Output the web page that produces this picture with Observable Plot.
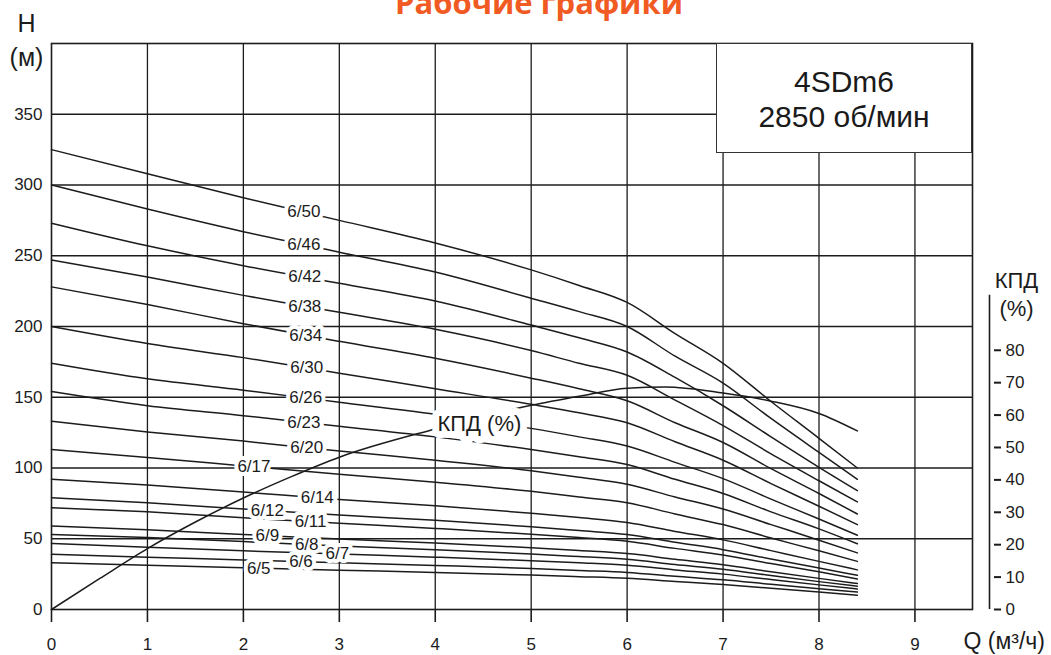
<!DOCTYPE html>
<html>
<head>
<meta charset="utf-8">
<script src="https://cdn.jsdelivr.net/npm/d3@7"></script>
<script src="https://cdn.jsdelivr.net/npm/@observablehq/plot@0.6"></script>
<style>
  html, body { margin: 0; padding: 0; background: #fff; }
  #wrap { position: relative; width: 1051px; height: 655px; overflow: hidden; }
  #box {
    position: absolute; left: 716px; top: 43px; width: 256px; height: 110px;
    box-sizing: border-box; border: 1.5px solid #333; background: #fff;
    display: flex; flex-direction: column; align-items: center; justify-content: center;
    font-family: "Liberation Sans", Arial, sans-serif; font-size: 30px; line-height: 35px; color: #1a1a1a;
    padding-top: 2px;
  }
</style>
</head>
<body>
<div id="wrap"><div id="box"><div>4SDm6</div><div>2850 об/мин</div></div></div>
<script>
// ---- data ----
const qPts = [0, 1, 2, 3, 4, 5, 5.5, 6, 6.5, 7, 7.5, 8, 8.4];   // Q, м³/ч
const models = ["6/50","6/46","6/42","6/38","6/34","6/30","6/26","6/23","6/20","6/17","6/14","6/12","6/11","6/9","6/8","6/7","6/6","6/5"];
const h50 = [325, 308, 291, 275, 259, 240, 229, 217, 195, 174, 147, 121, 100];
const h46 = [300, 283, 267, 252.5, 238.5, 220, 210.5, 200, 179, 160, 135, 111, 92];
const h42 = [273, 257, 243, 230.5, 218, 201, 192, 182, 164, 144, 122, 100.5, 84];
const h38 = [247, 235, 222, 210, 198, 183, 174, 165.5, 148, 130, 110, 91, 76];
const h34 = [228, 215.5, 202, 189.5, 177.5, 163.5, 156, 147.5, 132, 118, 99.5, 82, 67.5];
const h30 = [200, 188, 178, 167, 156, 145, 139, 132, 118.5, 105.5, 89, 73, 60];
const h26 = [174, 163, 155, 146.5, 138, 128, 122, 115.5, 104, 92.5, 78, 64, 52.5];
const h23 = [154, 144, 137, 129.5, 122, 113, 108, 102.5, 92, 82, 69, 57, 46.5];
const h20 = [133, 125.5, 119, 112, 105.5, 98, 93.5, 88.5, 79.5, 71, 60, 49, 40];
const h17 = [113, 107.5, 101.5, 95.5, 90, 83.5, 79.5, 75.5, 67.5, 60, 50.5, 41.5, 34];
const h14 = [92, 88, 83, 77.8, 73.4, 68, 65, 61.5, 55.2, 49.2, 41.6, 34, 28];
const h12 = [79, 75.5, 71, 66.8, 63, 58.5, 55.8, 53, 47.5, 42.3, 35.7, 29.3, 24.2];
const h11 = [72, 69, 64.8, 61, 57.3, 53.2, 50.8, 48.2, 43.2, 38.5, 32.5, 26.6, 21.5];
const h9  = [59, 56.3, 53, 49.8, 47, 43.7, 41.7, 39.5, 35.5, 31.6, 26.7, 22, 18.4];
const h8  = [53, 50.8, 48, 44.8, 42.2, 39.2, 37.4, 35.5, 31.8, 28.4, 24, 19.7, 16.5];
const h7  = [46.6, 44, 41.5, 39.2, 37, 34.5, 33, 31.2, 28, 25, 21.2, 17.4, 14.5];
const h6  = [39, 37, 35, 33, 31.1, 29, 27.6, 26.2, 23.5, 21, 17.8, 14.7, 12.3];
const h5  = [33, 31.3, 29.5, 27.8, 26.2, 24.3, 23.2, 22, 19.8, 17.7, 15, 12.3, 10.1];
const heads = [h50, h46, h42, h38, h34, h30, h26, h23, h20, h17, h14, h12, h11, h9, h8, h7, h6, h5];
// Q at which each curve label sits
const labelQ = [2.63, 2.63, 2.64, 2.64, 2.65, 2.66, 2.65, 2.63, 2.66, 2.11, 2.77, 2.25, 2.70, 2.25, 2.66, 2.98, 2.60, 2.16];

// efficiency curve (КПД, %)
const kpdQ = [0, 0.5, 1, 1.5, 2, 2.5, 3, 4, 5, 5.5, 6, 6.4, 7, 7.5, 8, 8.4];
const kpd  = [0, 9.5, 18.8, 27, 34.4, 41, 47, 55.7, 63, 65.8, 68.3, 68.7, 66.8, 64.3, 60.5, 55.1];
const kpdLabelQ = 4.46;

// axes
const xTicks = [0, 1, 2, 3, 4, 5, 6, 7, 8, 9];
const xGrid = [1, 2, 3, 4, 5, 6, 7, 8, 9];
const yTicks = [0, 50, 100, 150, 200, 250, 300, 350];
const yGrid = [50, 100, 150, 200, 250, 300, 350];
const kpdTicks = [0, 10, 20, 30, 40, 50, 60, 70, 80];
const kpdAxisTop = 97;      // top of the КПД scale bar, %
const kpdToH = 2.29;        // 1 % of КПД drawn as this many metres of H
const xMax = 9.6, yMax = 400;

// ---- build tables ----
const ink = "#1c1c1c";
const curveRows = [];
models.forEach((m, i) => heads[i].forEach((h, j) => curveRows.push({model: m, q: qPts[j], h})));
const kpdRows = kpdQ.map((q, i) => ({q, h: kpd[i] * kpdToH}));
function interp(xs, ys, x) {
  const i = Math.max(1, d3.bisectLeft(xs, x));
  const t = (x - xs[i - 1]) / (xs[i] - xs[i - 1]);
  return ys[i - 1] + t * (ys[i] - ys[i - 1]);
}
const labelRows = models.map((m, i) => ({text: m, q: labelQ[i], h: interp(qPts, heads[i], labelQ[i])}));
const kpdLabel = [{text: "КПД (%)", q: kpdLabelQ, h: interp(kpdQ, kpd, kpdLabelQ) * kpdToH}];

const font = "'Liberation Sans', Arial, Helvetica, sans-serif";
const note = (txt, anchor, dx, dy, size, extra = {}) =>
  Plot.text([txt], {text: d => d, frameAnchor: anchor, textAnchor: "middle", lineAnchor: "middle", dx, dy, fontSize: size, fill: ink, ...extra});

const chart = Plot.plot({
  width: 1051, height: 655,
  marginTop: 43, marginBottom: 46, marginLeft: 51, marginRight: 79,
  x: {domain: [0, xMax], axis: null},
  y: {domain: [0, yMax], axis: null},
  style: {fontFamily: font, fontSize: "17px", color: ink, background: "white", overflow: "visible"},
  marks: [
    Plot.gridX(xGrid, {stroke: ink, strokeOpacity: 1, strokeWidth: 1.3}),
    Plot.gridY(yGrid, {stroke: ink, strokeOpacity: 1, strokeWidth: 1.3}),
    Plot.frame({stroke: ink, strokeWidth: 1.6}),
    Plot.line(curveRows, {x: "q", y: "h", z: "model", curve: "monotone-x", stroke: ink, strokeWidth: 1.5}),
    Plot.line(kpdRows, {x: "q", y: "h", curve: "monotone-x", stroke: ink, strokeWidth: 1.5}),
    Plot.text(labelRows, {x: "q", y: "h", text: "text", fontSize: 17, fill: ink, stroke: "white", strokeWidth: 8, paintOrder: "stroke"}),
    Plot.text(kpdLabel, {x: "q", y: "h", text: "text", dy: 6, fontSize: 22, fill: ink, stroke: "white", strokeWidth: 14, paintOrder: "stroke"}),
    Plot.axisX(xTicks, {anchor: "bottom", tickSize: 13, tickPadding: 15, strokeWidth: 1.6, stroke: ink, fill: ink, fontSize: 17, label: null}),
    Plot.axisY(yTicks, {anchor: "left", tickSize: 0, tickPadding: 9, fill: ink, fontSize: 17, label: null}),
    Plot.ruleX([xMax], {y1: 0, y2: kpdAxisTop * kpdToH, dx: 17, stroke: ink, strokeWidth: 1.6}),
    Plot.axisY(kpdTicks.map(k => k * kpdToH), {anchor: "right", dx: 21, tickSize: 7, tickPadding: 5, strokeWidth: 2, stroke: ink, fill: ink, fontSize: 17, label: null,
      tickFormat: d => String(Math.round(d / kpdToH))}),
    Plot.text(["Рабочие графики"], {text: d => d, frameAnchor: "top", textAnchor: "middle", dx: 27, dy: -30, lineAnchor: "bottom", fontSize: 31, fontWeight: 700, fontFamily: "'Open Sans', sans-serif", fill: "#f15a22"}),
    note("H", "top-left", -25, -20, 25),
    note("(м)", "top-left", -25, 14, 25),
    note("КПД", "top-right", 44, 237, 22),
    note("(%)", "top-right", 44, 265, 22),
    Plot.text(["Q (м³/ч)"], {text: d => d, frameAnchor: "bottom-right", textAnchor: "start", lineAnchor: "middle", dx: -9, dy: 32, fontSize: 23, fill: ink})
  ]
});
document.getElementById("wrap").insertBefore(chart, document.getElementById("box"));
</script>
</body>
</html>
